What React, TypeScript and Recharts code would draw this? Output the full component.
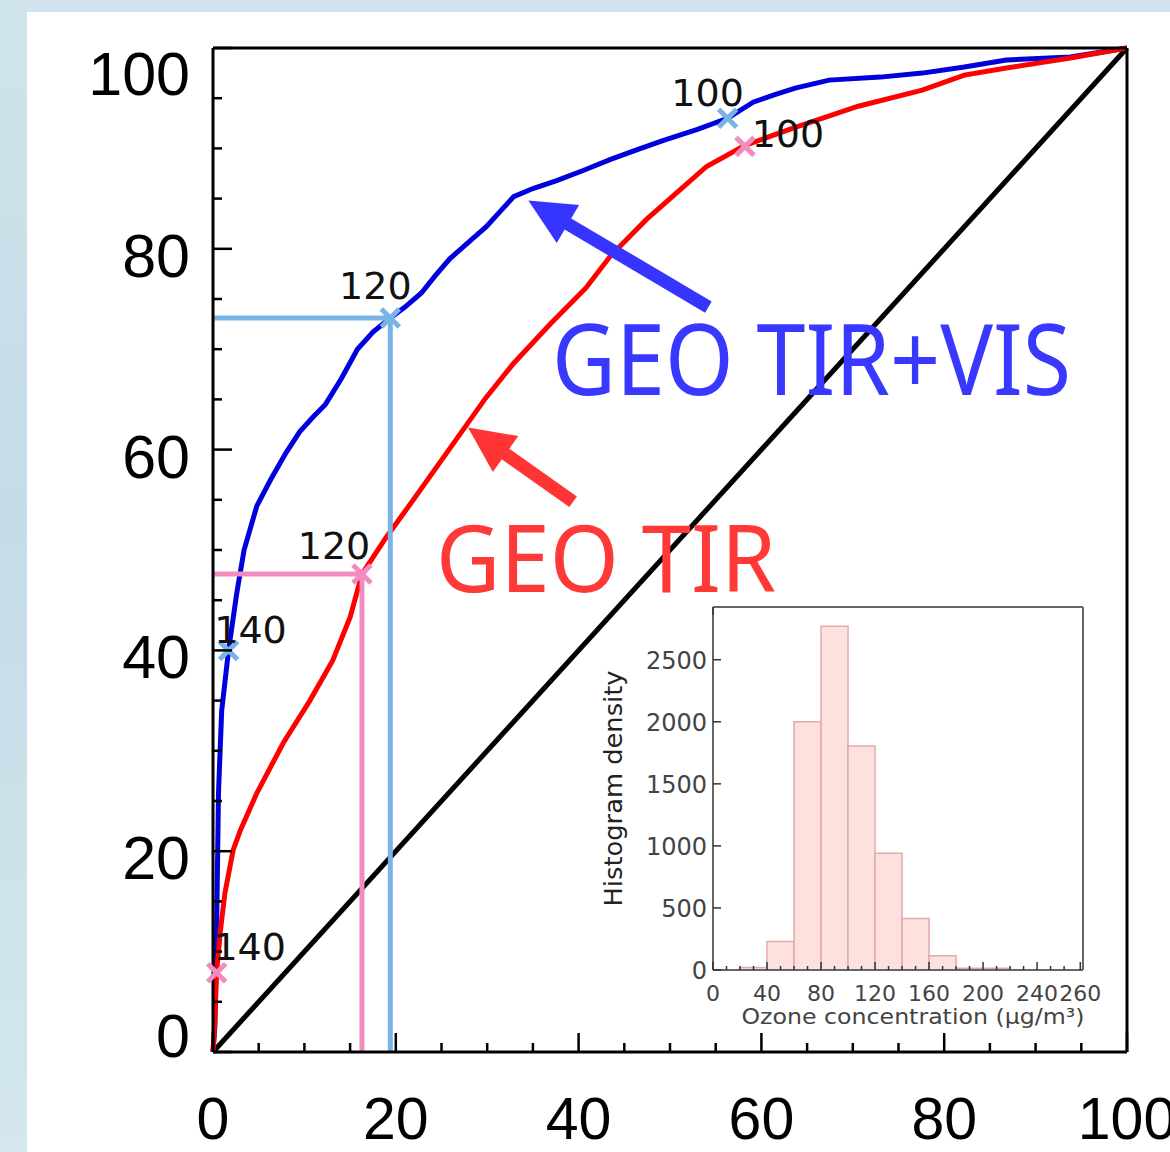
import React from "react";
import {
  ComposedChart,
  BarChart,
  Bar,
  Line,
  Scatter,
  XAxis,
  YAxis,
  ReferenceLine,
  ReferenceDot,
} from "recharts";

// cumulative curves, [x %, y %]
const tirVisCurve: [number, number][] = [
  [0, 0], [0.2, 2.5], [0.4, 12.5], [0.6, 25.8], [0.95, 34], [1.7, 40], [2.6, 45.7],
  [3.4, 50], [4.8, 54.4], [6.3, 57], [8, 59.7], [9.5, 61.8], [11, 63.3], [12.3, 64.5],
  [14, 67], [15.8, 70], [17.5, 71.7], [19.4, 73.1], [21, 74.2], [22.8, 75.6],
  [24.3, 77.3], [25.9, 79], [28, 80.7], [29.9, 82.2], [31.5, 83.8], [32.9, 85.2],
  [35, 86], [37.6, 86.8], [40.5, 87.8], [43.5, 88.9], [46.5, 89.9], [49.3, 90.8],
  [53, 91.9], [56.3, 93], [59.1, 94.6], [61.3, 95.3], [63.7, 96], [67.4, 96.8],
  [73, 97.1], [77.6, 97.5], [82.2, 98.1], [86.8, 98.8], [93.8, 99.1], [100, 100],
];

const tirCurve: [number, number][] = [
  [0, 0], [0.2, 3], [0.4, 8], [0.8, 12], [1.3, 15.8], [2.2, 20.1], [3, 22.1],
  [4.8, 25.8], [7.7, 30.8], [10.6, 35], [13.1, 39], [15, 43.3], [16.3, 47.6],
  [18.9, 51.2], [22, 55.1], [25.9, 60.1], [29.8, 65.1], [32.9, 68.6], [36.9, 72.5],
  [40.8, 76.1], [43.5, 79.3], [47.4, 82.9], [50.5, 85.4], [54, 88.2], [58.2, 90.3],
  [63.7, 92.1], [70.6, 94.2], [77.6, 95.8], [82.2, 97.3], [86.8, 98], [93.8, 99],
  [100, 100],
];

const diagonal: [number, number][] = [[0, 0], [100, 100]];

// threshold markers (ozone µg/m³)
const tirVisMarkers = [
  { x: 1.7, y: 40, label: "140" },
  { x: 19.4, y: 73.1, label: "120" },
  { x: 56.3, y: 93, label: "100" },
];
const tirMarkers = [
  { x: 0.4, y: 7.9, label: "140" },
  { x: 16.3, y: 47.6, label: "120" },
  { x: 58.2, y: 90.2, label: "100" },
];

const mainTicks = [0, 5, 10, 15, 20, 25, 30, 35, 40, 45, 50, 55, 60, 65, 70, 75, 80, 85, 90, 95, 100];
const mainLabels = [0, 20, 40, 60, 80, 100];

// inset histogram
const ozoneBins = [30, 50, 70, 90, 110, 130, 150, 170, 190, 210];
const ozoneDensity = [20, 230, 2000, 2770, 1805, 940, 415, 115, 15, 15];
const ozoneTicks = [0, 10, 20, 30, 40, 50, 60, 70, 80, 90, 100, 110, 120, 130, 140, 150, 160, 170, 180, 190, 200, 210, 220, 230, 240, 250, 260, 272];
// the last label of the figure sits at the right end of its axis
const ozoneLabelAt = [0, 40, 80, 120, 160, 200, 240, 272];
const ozoneLabelText = ["0", "40", "80", "120", "160", "200", "240", "260"];
const densityTicks = [0, 500, 1000, 1500, 2000, 2500];

// annotation positions in data units
const blueArrow = [{ x: 54.2, y: 74.2 }, { x: 34.5, y: 84.8 }];
const redArrow = [{ x: 39.4, y: 54.8 }, { x: 27.9, y: 62.2 }];
const blueNote = { x: 37.1, y: 65.4, text: "GEO TIR+VIS" };
const redNote = { x: 24.4, y: 45.8, text: "GEO TIR" };

const toPts = (arr: [number, number][]) => arr.map(([x, y]) => ({ x, y }));
const histData = ozoneBins.map((c, i) => ({ ozone: c, density: ozoneDensity[i] }));

const BIG = "'Liberation Sans', Arial, sans-serif";
const SMALL = "'DejaVu Sans', sans-serif";
const NOTE = "'Noto Sans', 'Open Sans', sans-serif";

const BLUE = "#0000dc";
const RED = "#ff0000";
const LBLUE = "#7ab4e6";
const PINK = "#f28cc0";

const blueLabelOffset = [[22, -7], [-15, -19], [-20, -12]];
const redLabelOffset = [[33, -13], [-28, -15], [43, 1]];
const yLabelNudge: Record<number, number> = { 100: 19, 0: -23 };

const axisStyle = { stroke: "#000", strokeWidth: 3 };

const tickLen = (v: number) => (mainLabels.includes(v) ? 19 : 9);

const BottomTick = (p: any) => {
  const v = p.payload.value;
  return (
    <g>
      <line x1={p.x} y1={p.y} x2={p.x} y2={p.y - tickLen(v)} stroke="#000" strokeWidth={2.5} />
      {mainLabels.includes(v) && (
        <text x={p.x} y={p.y + 87} textAnchor="middle" fontSize={59} fontFamily={BIG} fill="#000">
          {v}
        </text>
      )}
    </g>
  );
};

const TopTick = (p: any) => (
  <line x1={p.x} y1={p.y} x2={p.x} y2={p.y + tickLen(p.payload.value)} stroke="#000" strokeWidth={2.5} />
);

const LeftTick = (p: any) => {
  const v = p.payload.value;
  return (
    <g>
      <line x1={p.x} y1={p.y} x2={p.x + tickLen(v)} y2={p.y} stroke="#000" strokeWidth={2.5} />
      {mainLabels.includes(v) && (
        <text x={p.x - 23} y={p.y + 28 + (yLabelNudge[v] || 0)} textAnchor="end" fontSize={61} fontFamily={BIG} fill="#000">
          {v}
        </text>
      )}
    </g>
  );
};

const RightTick = (p: any) => (
  <line x1={p.x} y1={p.y} x2={p.x - tickLen(p.payload.value)} y2={p.y} stroke="#000" strokeWidth={2.5} />
);

const markerShape = (color: string, offsets: number[][]) => (p: any) => {
  const { cx, cy, index } = p;
  const s = 9;
  const o = offsets[index] || [0, 0];
  return (
    <g>
      <line x1={cx - s} y1={cy - s} x2={cx + s} y2={cy + s} stroke={color} strokeWidth={5} />
      <line x1={cx - s} y1={cy + s} x2={cx + s} y2={cy - s} stroke={color} strokeWidth={5} />
      <text x={cx + o[0]} y={cy + o[1]} textAnchor="middle" fontSize={38} fontFamily={SMALL} fill="#111">
        {p.payload.label}
      </text>
    </g>
  );
};

const arrowShape = (color: string) => (p: any) => {
  const { x1, y1, x2, y2 } = p;
  const dx = x2 - x1;
  const dy = y2 - y1;
  const len = Math.hypot(dx, dy) || 1;
  const ux = dx / len;
  const uy = dy / len;
  const head = 46;
  const half = 22;
  const bx = x2 - ux * head;
  const by = y2 - uy * head;
  return (
    <g>
      <line x1={x1} y1={y1} x2={bx + ux * 4} y2={by + uy * 4} stroke={color} strokeWidth={13} />
      <polygon
        points={`${x2},${y2} ${bx - uy * half},${by + ux * half} ${bx + uy * half},${by - ux * half}`}
        fill={color}
      />
    </g>
  );
};

const noteShape = (text: string, color: string, size: number, width: number) => (p: any) => (
  <text x={p.cx} y={p.cy} fontSize={size} fontFamily={NOTE} fill={color} textLength={width} lengthAdjust="spacingAndGlyphs">
    {text}
  </text>
);

// inset ticks
const InsetBottomTick = (p: any) => {
  const v = p.payload.value;
  const li = ozoneLabelAt.indexOf(v);
  return (
    <g>
      <line x1={p.x} y1={p.y} x2={p.x} y2={p.y - (li >= 0 ? 8 : 4)} stroke="#333" strokeWidth={1.5} />
      {li >= 0 && (
        <text x={p.x} y={p.y + 31} textAnchor="middle" fontSize={22} fontFamily={SMALL} fill="#444">
          {ozoneLabelText[li]}
        </text>
      )}
    </g>
  );
};
const InsetTopTick = (p: any) => (
  <line x1={p.x} y1={p.y} x2={p.x} y2={p.y + 8} stroke="#333" strokeWidth={1.5} />
);
const InsetLeftTick = (p: any) => (
  <g>
    <line x1={p.x} y1={p.y} x2={p.x + 8} y2={p.y} stroke="#333" strokeWidth={1.5} />
    <text x={p.x - 6} y={p.y + 9} textAnchor="end" fontSize={24} fontFamily={SMALL} fill="#444">
      {p.payload.value}
    </text>
  </g>
);
const InsetRightTick = (p: any) => (
  <line x1={p.x} y1={p.y} x2={p.x - 8} y2={p.y} stroke="#333" strokeWidth={1.5} />
);

const insetAxis = { stroke: "#666", strokeWidth: 2 };

export default function App() {
  const projections = [
    { m: tirVisMarkers[1], color: LBLUE },
    { m: tirMarkers[1], color: PINK },
  ];
  return (
    <div
      style={{
        position: "absolute",
        left: 0,
        top: 0,
        width: 1170,
        height: 1152,
        overflow: "hidden",
        background: "linear-gradient(180deg, #cfe4ec 0%, #c4dce7 45%, #d4e7ee 100%)",
      }}
    >
      <div style={{ position: "absolute", left: 27, top: 12, right: 0, bottom: 0, background: "#fff" }} />
      <div style={{ position: "absolute", left: 0, top: 0 }}>
        <ComposedChart width={1170} height={1152} margin={{ top: 0, right: 0, bottom: 0, left: 0 }}>
          <XAxis
            xAxisId="b"
            dataKey="x"
            type="number"
            domain={[0, 100]}
            ticks={mainTicks}
            interval={0}
            height={100}
            tickSize={0}
            tickMargin={0}
            tickLine={false}
            axisLine={axisStyle}
            tick={BottomTick}
          />
          <XAxis
            xAxisId="t"
            orientation="top"
            type="number"
            domain={[0, 100]}
            ticks={mainTicks}
            interval={0}
            height={48}
            tickSize={0}
            tickMargin={0}
            tickLine={false}
            axisLine={axisStyle}
            tick={TopTick}
          />
          <YAxis
            yAxisId="l"
            dataKey="y"
            type="number"
            domain={[0, 100]}
            ticks={mainTicks}
            interval={0}
            width={213}
            tickSize={0}
            tickMargin={0}
            tickLine={false}
            axisLine={axisStyle}
            tick={LeftTick}
          />
          <YAxis
            yAxisId="r"
            orientation="right"
            type="number"
            domain={[0, 100]}
            ticks={mainTicks}
            interval={0}
            width={43}
            tickSize={0}
            tickMargin={0}
            tickLine={false}
            axisLine={axisStyle}
            tick={RightTick}
          />

          <Line xAxisId="b" yAxisId="l" data={toPts(diagonal)} dataKey="y" stroke="#000" strokeWidth={5} dot={false} activeDot={false} isAnimationActive={false} />
          <Line xAxisId="b" yAxisId="l" data={toPts(tirVisCurve)} dataKey="y" stroke={BLUE} strokeWidth={5} dot={false} activeDot={false} isAnimationActive={false} />
          <Line xAxisId="b" yAxisId="l" data={toPts(tirCurve)} dataKey="y" stroke={RED} strokeWidth={5} dot={false} activeDot={false} isAnimationActive={false} />

          {projections.map(({ m, color }, i) => (
            <ReferenceLine
              key={`h${i}`}
              xAxisId="b"
              yAxisId="l"
              segment={[{ x: 0, y: m.y }, { x: m.x, y: m.y }]}
              stroke={color}
              strokeWidth={5}
            />
          ))}
          {projections.map(({ m, color }, i) => (
            <ReferenceLine
              key={`v${i}`}
              xAxisId="b"
              yAxisId="l"
              segment={[{ x: m.x, y: 0 }, { x: m.x, y: m.y }]}
              stroke={color}
              strokeWidth={5}
            />
          ))}

          <Scatter xAxisId="b" yAxisId="l" data={tirVisMarkers} dataKey="y" shape={markerShape(LBLUE, blueLabelOffset)} isAnimationActive={false} />
          <Scatter xAxisId="b" yAxisId="l" data={tirMarkers} dataKey="y" shape={markerShape(PINK, redLabelOffset)} isAnimationActive={false} />

          <ReferenceLine xAxisId="b" yAxisId="l" segment={blueArrow} shape={arrowShape("#3535ff")} />
          <ReferenceLine xAxisId="b" yAxisId="l" segment={redArrow} shape={arrowShape("#ff3535")} />

          <ReferenceDot xAxisId="b" yAxisId="l" x={blueNote.x} y={blueNote.y} r={0} shape={noteShape(blueNote.text, "#3838ff", 98, 519)} />
          <ReferenceDot xAxisId="b" yAxisId="l" x={redNote.x} y={redNote.y} r={0} shape={noteShape(redNote.text, "#ff3838", 94, 340)} />
        </ComposedChart>
      </div>

      <div style={{ position: "absolute", left: 590, top: 590 }}>
        <BarChart
          width={540}
          height={450}
          data={histData}
          margin={{ top: 0, right: 0, bottom: 0, left: 0 }}
          barCategoryGap={0}
          barGap={0}
        >
          <XAxis
            xAxisId="b"
            dataKey="ozone"
            type="number"
            domain={[0, 274]}
            ticks={ozoneTicks}
            interval={0}
            height={70}
            tickSize={0}
            tickMargin={0}
            tickLine={false}
            axisLine={insetAxis}
            tick={InsetBottomTick}
            label={(lp: any) => {
              const vb = lp.viewBox || {};
              return (
                <text x={(vb.x || 0) + (vb.width || 0) / 2 + 15} y={(vb.y || 0) + 54} textAnchor="middle" fontSize={21} fontFamily={SMALL} fill="#444" textLength={343} lengthAdjust="spacingAndGlyphs">
                  Ozone concentration (µg/m³)
                </text>
              );
            }}
          />
          <XAxis
            xAxisId="t"
            orientation="top"
            type="number"
            domain={[0, 274]}
            ticks={ozoneLabelAt}
            interval={0}
            height={17}
            tickSize={0}
            tickMargin={0}
            tickLine={false}
            axisLine={insetAxis}
            tick={InsetTopTick}
          />
          <YAxis
            yAxisId="l"
            type="number"
            domain={[0, 2925]}
            ticks={densityTicks}
            interval={0}
            width={123}
            tickSize={0}
            tickMargin={0}
            tickLine={false}
            axisLine={insetAxis}
            tick={InsetLeftTick}
            label={(lp: any) => {
              const vb = lp.viewBox || {};
              const cx = (vb.x || 0) + 32;
              const cy = (vb.y || 0) + (vb.height || 0) / 2;
              return (
                <text x={cx} y={cy} transform={`rotate(-90 ${cx} ${cy})`} textAnchor="middle" fontSize={24} fontFamily={SMALL} fill="#222" textLength={236} lengthAdjust="spacingAndGlyphs">
                  Histogram density
                </text>
              );
            }}
          />
          <YAxis
            yAxisId="r"
            orientation="right"
            type="number"
            domain={[0, 2925]}
            ticks={densityTicks}
            interval={0}
            width={47}
            tickSize={0}
            tickMargin={0}
            tickLine={false}
            axisLine={insetAxis}
            tick={InsetRightTick}
          />
          <Bar xAxisId="b" yAxisId="l" dataKey="density" fill="#fde1df" stroke="#e4aaaa" strokeWidth={1.5} isAnimationActive={false} />
        </BarChart>
      </div>
    </div>
  );
}
